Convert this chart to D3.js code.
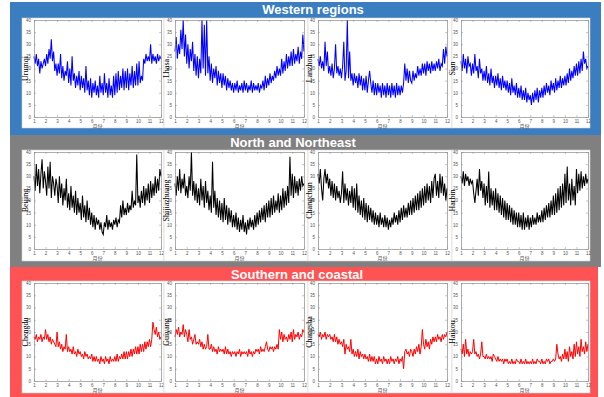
<!DOCTYPE html>
<html>
<head>
<meta charset="utf-8">
<script src="https://cdn.jsdelivr.net/npm/d3@7"></script>
<style>
  html, body { margin: 0; padding: 0; background: #fff; }
  svg { display: block; }
</style>
</head>
<body>
<script>
// One sample every 0.1 month, month 1.0 .. 12.0 (111 values per city)
const urumqi = [
  25,22,26,21,24,18,23,20,22,24,
  21,26,22,28,24,32,23,27,19,22,
  17,22,18,26,16,21,15,19,17,23,
  14,20,13,25,15,18,12,17,13,19,
  11,17,12,16,10,21,11,15,9,16,
  8,14,10,15,9,13,8,17,10,14,
  9,18,10,14,8,16,9,13,8,17,
  9,18,10,19,11,17,12,20,11,19,
  12,20,11,18,13,21,12,19,13,22,
  13,23,14,17,15,24,22,26,23,25,
  23,30,22,26,23,25,22,26,23,25,
  24
];
const lhasa = [
  27,33,24,30,26,36,28,40,25,34,
  22,30,20,28,23,31,19,26,17,25,
  16,24,18,40,20,38,17,40,18,25,
  15,22,14,20,16,21,13,19,14,18,
  12,18,13,17,11,16,12,15,11,14,
  10,14,11,15,10,13,11,14,10,15,
  11,14,10,13,11,15,10,14,11,13,
  11,14,10,13,12,15,11,17,12,16,
  13,18,14,17,15,19,16,21,17,20,
  17,24,18,23,19,26,20,25,21,27,
  21,28,22,26,23,29,22,27,24,34,
  27
];
const lanzhou = [
  24,21,25,20,23,19,31,21,27,18,
  21,17,22,16,20,30,18,21,17,20,
  16,21,31,15,19,40,16,27,15,18,
  13,18,14,17,12,18,13,17,11,16,
  11,17,10,15,19,14,10,15,9,14,
  9,14,10,13,8,14,9,13,8,14,
  9,13,8,14,9,13,8,14,9,13,
  9,13,10,14,22,15,20,14,19,15,
  14,19,15,18,16,21,17,20,17,22,
  18,22,17,23,19,22,18,23,19,22,
  19,23,20,24,19,22,21,28,22,29,
  25
];
const sian = [
  23,19,26,20,24,18,25,21,22,17,
  22,18,26,19,21,16,24,18,20,15,
  19,15,21,14,18,13,20,14,17,12,
  17,13,18,12,16,11,17,12,15,11,
  15,10,14,9,16,10,13,9,14,8,
  12,8,13,7,11,7,12,6,10,7,
  9,5,10,6,11,7,12,6,11,8,
  12,8,13,9,14,10,13,9,15,11,
  14,10,16,11,15,12,17,12,16,13,
  17,13,18,14,20,15,19,16,21,17,
  22,17,23,18,24,19,27,22,24,20,
  21
];
const beijing = [
  30,24,35,26,33,23,31,37,25,32,
  28,22,34,25,36,21,30,27,22,29,
  26,19,30,21,27,18,25,20,29,17,
  23,16,26,17,22,15,24,14,21,15,
  19,12,22,13,18,11,20,12,17,10,
  15,9,14,8,13,10,12,8,11,7,
  6,11,9,14,8,12,9,11,8,12,
  10,13,9,12,11,18,13,20,14,17,
  14,19,15,18,16,24,17,20,18,39,
  19,22,17,24,19,26,18,25,20,27,
  19,28,21,27,22,30,23,29,24,33,
  30
];
const shijiazhuang = [
  27,22,30,24,33,23,29,25,31,22,
  26,21,30,24,40,22,28,20,27,19,
  25,18,29,20,26,17,28,19,24,16,
  22,15,36,17,24,14,21,13,20,12,
  19,11,21,12,18,10,17,11,16,9,
  14,9,15,8,13,7,12,8,14,7,
  11,6,12,8,13,9,12,8,14,9,
  15,10,16,11,17,12,18,11,19,13,
  20,13,21,14,22,15,20,16,23,15,
  22,16,25,17,24,18,26,19,38,22,
  31,21,30,23,28,22,29,24,30,26,
  27
];
const changchun = [
  31,27,33,25,20,29,33,27,31,25,
  29,22,28,21,27,20,26,21,24,19,
  23,32,19,27,20,25,18,24,19,26,
  17,25,16,27,15,22,14,20,13,21,
  12,19,11,18,12,17,11,16,10,15,
  10,14,9,15,10,13,9,14,9,13,
  8,12,9,13,10,15,11,14,10,16,
  11,17,12,18,13,17,13,19,14,20,
  14,21,15,22,16,23,16,24,17,25,
  18,26,19,27,20,26,19,28,21,29,
  31,22,28,21,31,23,30,22,27,20,
  25
];
const harbin = [
  30,27,32,26,31,28,30,26,29,27,
  28,23,19,24,29,22,33,24,28,21,
  27,18,26,19,32,17,25,18,24,16,
  25,16,23,15,22,14,21,13,20,12,
  19,12,18,11,17,10,16,10,15,9,
  15,9,14,8,15,8,13,9,14,8,
  13,9,14,10,13,10,15,11,14,11,
  16,11,17,12,18,13,19,13,20,14,
  22,14,23,15,25,16,26,17,27,18,
  31,19,34,20,27,18,29,20,26,18,
  33,23,31,24,32,25,30,26,31,27,
  29
];
const chengdu = [
  18,17,19,16,18,17,19,16,18,17,
  21,17,19,16,18,15,17,16,15,14,
  20,14,16,13,15,12,14,13,19,12,
  14,12,13,11,14,11,12,10,13,11,
  12,10,11,9,12,10,11,9,10,9,
  11,8,10,8,10,8,9,7,10,8,
  9,7,10,8,9,7,10,8,9,8,
  10,8,11,8,10,9,11,9,12,9,
  12,9,12,10,13,10,13,11,14,11,
  14,11,15,12,15,12,16,13,16,14,
  17,14,17,24,21,19,22,18,20,17,
  18
];
const guiyang = [
  18,21,19,22,18,20,19,23,18,21,
  19,16,21,17,18,15,17,19,15,16,
  15,17,14,16,13,15,13,14,19,13,
  13,15,12,14,12,13,11,14,12,13,
  12,13,11,14,11,13,11,12,10,12,
  11,12,10,12,11,13,10,12,11,12,
  11,12,10,13,11,12,10,12,11,13,
  12,13,11,14,12,13,12,14,16,13,
  12,14,13,14,12,14,13,15,13,21,
  17,20,16,19,17,18,16,19,17,20,
  16,21,17,19,18,20,17,19,18,21,
  20
];
const changsha = [
  19,18,20,17,19,18,20,17,19,18,
  19,17,18,16,19,16,18,15,17,15,
  16,14,17,11,15,13,14,12,17,11,
  13,10,12,10,13,9,12,10,11,9,
  11,9,10,8,11,8,10,8,10,7,
  9,7,10,8,9,7,10,8,9,7,
  9,7,10,8,9,7,9,8,10,7,
  9,8,10,5,12,13,11,12,10,13,
  12,10,13,11,14,12,15,11,14,21,
  15,13,17,14,16,13,17,15,18,16,
  18,16,19,17,18,16,19,17,19,18,
  20
];
const haikou = [
  13,11,15,10,17,11,13,10,12,11,
  12,17,11,12,10,11,9,11,16,10,
  10,9,11,9,10,9,10,8,11,10,
  9,8,10,8,9,8,9,7,9,8,
  9,7,8,7,9,7,8,7,9,8,
  8,7,9,7,8,7,9,7,8,7,
  8,7,9,7,8,7,9,8,8,7,
  9,7,8,7,9,8,9,7,8,8,
  9,8,9,15,11,9,10,8,11,9,
  13,9,12,8,14,10,12,9,15,10,
  16,11,14,10,17,12,14,11,16,12,
  15
];

const groupTitles = ['Western regions', 'North and Northeast', 'Southern and coastal'];
const cityNames = [
  ['Urumqi', 'Lhasa', 'Lanzhou', 'Sian'],
  ['Beijing', 'Shijiazhuang', 'Changchun', 'Harbin'],
  ['Chengdu', 'Guiyang', 'Changsha', 'Haikou']
];
const citySeries = [
  [urumqi, lhasa, lanzhou, sian],
  [beijing, shijiazhuang, changchun, harbin],
  [chengdu, guiyang, changsha, haikou]
];
const monthTicks = [1, 2, 3, 4, 5, 6, 7, 8, 9, 10, 11, 12];
const valueTicks = [0, 5, 10, 15, 20, 25, 30, 35, 40];
const xLabel = '月份';

// layout / style
const W = 604, H = 397;
const rows = [
  { frame: '#3a7dc0', line: '#0000ff', lw: 1.05, x: 10, y: 2, w: 591, h: 133, tx: 313, ty: 14, bgTop: 18, bgBot: 128, top: 20, bottom: 117 },
  { frame: '#808080', line: '#000000', lw: 1.05, x: 10, y: 135, w: 591, h: 132, tx: 293, ty: 147, bgTop: 150, bgBot: 261, top: 152, bottom: 249 },
  { frame: '#ff5252', line: '#ff0000', lw: 1.0, x: 10, y: 267, w: 588, h: 130, tx: 297, ty: 279, bgTop: 281, bgBot: 393, top: 283, bottom: 381 }
];
const cols = [
  { b0: 22, b1: 164, a0: 34, a1: 161 },
  { b0: 164, b1: 308, a0: 175, a1: 304 },
  { b0: 308, b1: 452, a0: 318, a1: 447 },
  { b0: 452, b1: 590, a0: 461, a1: 588 }
];

const svg = d3.select('body').append('svg')
  .attr('width', W)
  .attr('height', H);

rows.forEach((r, ri) => {
  svg.append('rect')
    .attr('x', r.x).attr('y', r.y)
    .attr('width', r.w).attr('height', r.h)
    .attr('fill', r.frame);

  svg.append('text')
    .attr('x', r.tx).attr('y', r.ty)
    .attr('text-anchor', 'middle')
    .attr('font-family', 'Liberation Sans, Arial, sans-serif')
    .attr('font-weight', 'bold')
    .attr('font-size', '13px')
    .attr('fill', '#fff')
    .text(groupTitles[ri]);

  cols.forEach((c, ci) => {
    const g = svg.append('g');

    // white figure background
    g.append('rect')
      .attr('x', c.b0).attr('y', r.bgTop)
      .attr('width', c.b1 - c.b0).attr('height', r.bgBot - r.bgTop)
      .attr('fill', '#fff')
      .attr('stroke', '#d4d4d4')
      .attr('stroke-width', 0.6);

    const x = d3.scaleLinear().domain([1, 12]).range([c.a0, c.a1]);
    const y = d3.scaleLinear().domain([0, 40]).range([r.bottom, r.top]);

    const data = citySeries[ri][ci];
    const line = d3.line()
      .x((d, i) => x(1 + i / 10))
      .y(d => y(d));

    g.append('path')
      .datum(data)
      .attr('fill', 'none')
      .attr('stroke', r.line)
      .attr('stroke-width', r.lw)
      .attr('stroke-linejoin', 'miter')
      .attr('d', line);

    // box axes, matlab style (ticks pointing in)
    const axB = g.append('g')
      .attr('transform', `translate(0,${r.bottom})`)
      .call(d3.axisBottom(x).tickValues(monthTicks).tickSizeInner(-2).tickSizeOuter(0).tickPadding(3));
    const axT = g.append('g')
      .attr('transform', `translate(0,${r.top})`)
      .call(d3.axisTop(x).tickValues(monthTicks).tickSizeInner(-2).tickSizeOuter(0).tickFormat(''));
    const axL = g.append('g')
      .attr('transform', `translate(${c.a0},0)`)
      .call(d3.axisLeft(y).tickValues(valueTicks).tickSizeInner(-2).tickSizeOuter(0).tickPadding(3));
    const axR = g.append('g')
      .attr('transform', `translate(${c.a1},0)`)
      .call(d3.axisRight(y).tickValues(valueTicks).tickSizeInner(-2).tickSizeOuter(0).tickFormat(''));

    [axB, axT, axL, axR].forEach(a => {
      a.selectAll('.domain').attr('stroke', '#8a8a8a').attr('stroke-width', 0.7);
      a.selectAll('.tick line').attr('stroke', '#8a8a8a').attr('stroke-width', 0.5);
      a.selectAll('text')
        .attr('font-family', 'Liberation Sans, Arial, sans-serif')
        .attr('font-size', '4.5px')
        .attr('fill', '#555');
    });
    axB.selectAll('text').attr('dy', '0.6em');

    // x label
    g.append('text')
      .attr('x', (c.a0 + c.a1) / 2)
      .attr('y', r.bottom + 10.5)
      .attr('text-anchor', 'middle')
      .attr('font-family', 'Noto Sans CJK SC, sans-serif')
      .attr('font-size', '5px')
      .attr('fill', '#555')
      .text(xLabel);

    // y label (city)
    g.append('text')
      .attr('transform', `translate(${c.a0 - 6},${(r.top + r.bottom) / 2}) rotate(-90)`)
      .attr('text-anchor', 'middle')
      .attr('font-family', 'Liberation Serif, Times New Roman, serif')
      .attr('font-size', '8px')
      .attr('fill', '#000')
      .text(cityNames[ri][ci]);
  });
});
</script>
</body>
</html>
